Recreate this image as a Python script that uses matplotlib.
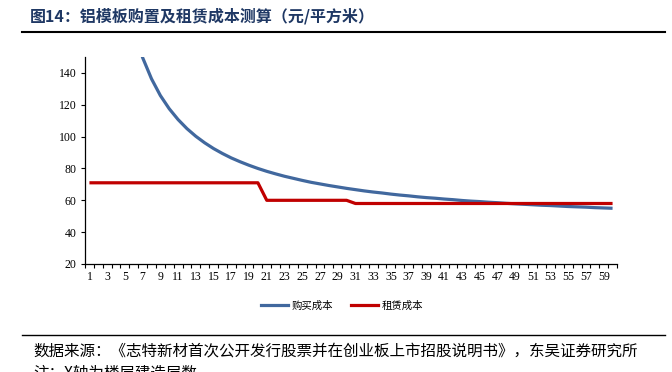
import matplotlib.pyplot as plt
from matplotlib.lines import Line2D

plt.rcParams['font.family'] = ['Noto Sans CJK SC', 'DejaVu Sans']

# data
floors = list(range(1, 61))
buy_cost = [792.5, 417.5, 292.5, 230.0, 192.5, 167.5, 149.6, 136.3, 125.8, 117.5,
            110.7, 105.0, 100.2, 96.1, 92.5, 89.4, 86.6, 84.2, 82.0, 80.0,
            78.2, 76.6, 75.1, 73.8, 72.5, 71.3, 70.3, 69.3, 68.4, 67.5,
            66.7, 65.9, 65.2, 64.6, 63.9, 63.3, 62.8, 62.2, 61.7, 61.3,
            60.8, 60.4, 59.9, 59.5, 59.2, 58.8, 58.5, 58.1, 57.8, 57.5,
            57.2, 56.9, 56.7, 56.4, 56.1, 55.9, 55.7, 55.4, 55.2, 55.0]
rent_cost = [71] * 20 + [60] * 10 + [58] * 30
series_names = ["购买成本", "租赁成本"]
title = "图14：铝模板购置及租赁成本测算（元/平方米）"
source = "数据来源：《志特新材首次公开发行股票并在创业板上市招股说明书》，东吴证券研究所"
note = "注：X轴为楼层建造层数"

blue = "#41689E"
red = "#C00000"
num_font = "Liberation Serif"

fig = plt.figure(figsize=(6.72, 3.72), dpi=100)
ax = fig.add_axes([85 / 672, 1 - 264 / 372, 532 / 672, 207 / 372])

ax.plot(floors, buy_cost, color=blue, lw=2.3, solid_capstyle="butt")
ax.plot(floors, rent_cost, color=red, lw=2.3, solid_capstyle="butt")

ax.set_xlim(0.5, 60.5)
ax.set_ylim(20, 150)
ax.set_yticks(range(20, 141, 20))
ax.set_xticks(floors[::2])
ax.set_xticks([f + 0.5 for f in range(0, 61)], minor=True)
ax.tick_params(axis="x", which="major", length=0, pad=5)
ax.tick_params(axis="x", which="minor", length=3, width=0.8, direction="out")
ax.tick_params(axis="y", length=3, width=0.8, direction="out", pad=3)
for lab in ax.get_xticklabels() + ax.get_yticklabels():
    lab.set_fontfamily(num_font)
    lab.set_fontsize(8.5)

for s in ["top", "right"]:
    ax.spines[s].set_visible(False)
for s in ["left", "bottom"]:
    ax.spines[s].set_linewidth(0.9)

handles = [Line2D([], [], color=blue, lw=2.3), Line2D([], [], color=red, lw=2.3)]
fig.legend(handles, series_names, loc="center", bbox_to_anchor=(342 / 672, 1 - 306 / 372),
           ncol=2, frameon=False, fontsize=7.5, handlelength=2.6, handletextpad=0.3,
           columnspacing=1.8)

# title, rules, footnotes
fig.text(30 / 672, 1 - 16 / 372, title, fontsize=11.5, fontweight="bold",
         color="#1F3864", va="center", ha="left")
fig.add_artist(Line2D([22 / 672, 665 / 672], [1 - 32 / 372] * 2, color="black", lw=1.5))
fig.add_artist(Line2D([22 / 672, 665 / 672], [1 - 335 / 372] * 2, color="black", lw=1.0))
fig.text(33 / 672, 1 - 351 / 372, source, fontsize=11.2, va="center", ha="left")
fig.text(33 / 672, 1 - 364 / 372, note, fontsize=11.2, va="top", ha="left")

fig.savefig("out.png", dpi=100)
